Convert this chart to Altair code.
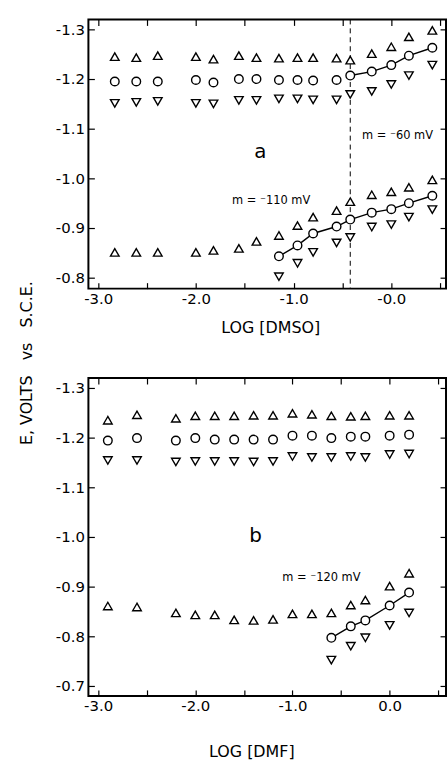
import altair as alt
import pandas as pd

# ---------------- Panel a : LOG [DMSO] ----------------
a_x = [-2.83, -2.61, -2.39, -2.0, -1.82, -1.56, -1.38, -1.15, -0.96, -0.80, -0.56, -0.42, -0.20, 0.0, 0.18, 0.42]
a_hi_up = [-1.245, -1.243, -1.247, -1.245, -1.240, -1.247, -1.243, -1.242, -1.243, -1.243, -1.242, -1.238, -1.251, -1.265, -1.285, -1.298]
a_hi_mid = [-1.195, -1.195, -1.195, -1.198, -1.193, -1.200, -1.200, -1.198, -1.198, -1.197, -1.198, -1.207, -1.215, -1.228, -1.247, -1.263]
a_hi_dn = [-1.151, -1.153, -1.155, -1.151, -1.150, -1.157, -1.157, -1.160, -1.160, -1.158, -1.158, -1.169, -1.175, -1.189, -1.207, -1.228]
a_hi_line_from = -0.42
a_lo_up = [-0.851, -0.851, -0.851, -0.851, -0.855, -0.859, -0.873, -0.885, -0.905, -0.922, -0.935, -0.953, -0.967, -0.973, -0.982, -0.997]
a_lo_x = [-1.15, -0.96, -0.80, -0.56, -0.42, -0.20, 0.0, 0.18, 0.42]
a_lo_mid = [-0.843, -0.865, -0.889, -0.903, -0.917, -0.931, -0.938, -0.950, -0.965]
a_lo_dn = [-0.802, -0.829, -0.851, -0.870, -0.881, -0.902, -0.907, -0.922, -0.937]
a_dashed_x = [-0.42]
a_letter = ["a"]
a_letter_x = [-1.34]
a_letter_y = [-1.054]
a_slope_text = ["m = \u207b60 mV", "m = \u207b110 mV"]
a_slope_x = [-0.30, -1.63]
a_slope_y = [-1.086, -0.954]
a_xtick_values = [-3.0, -2.5, -2.0, -1.5, -1.0, -0.5, 0.0, 0.5]
a_xlabel_values = [-3.0, -2.0, -1.0, 0.0]
a_xlabels = ["-3.0", "-2.0", "-1.0", "-0.0"]
a_ytick_values = [-1.3, -1.2, -1.1, -1.0, -0.9, -0.8]
a_ylabels = ["-1.3", "-1.2", "-1.1", "-1.0", "-0.9", "-0.8"]

# ---------------- Panel b : LOG [DMF] ----------------
b_x = [-2.9, -2.6, -2.2, -2.0, -1.8, -1.6, -1.4, -1.2, -1.0, -0.8, -0.6, -0.4, -0.25, 0.0, 0.2]
b_hi_up = [-1.235, -1.246, -1.239, -1.244, -1.244, -1.244, -1.245, -1.245, -1.249, -1.247, -1.244, -1.243, -1.244, -1.245, -1.245]
b_hi_mid = [-1.194, -1.199, -1.194, -1.199, -1.196, -1.196, -1.196, -1.196, -1.204, -1.204, -1.199, -1.202, -1.202, -1.204, -1.206]
b_hi_dn = [-1.154, -1.154, -1.151, -1.152, -1.152, -1.152, -1.151, -1.152, -1.162, -1.160, -1.160, -1.162, -1.160, -1.166, -1.167]
b_lo_up = [-0.861, -0.859, -0.847, -0.843, -0.843, -0.833, -0.832, -0.834, -0.845, -0.845, -0.847, -0.863, -0.873, -0.901, -0.927]
b_lo_x = [-0.6, -0.4, -0.25, 0.0, 0.2]
b_lo_mid = [-0.797, -0.820, -0.832, -0.862, -0.888]
b_lo_dn = [-0.752, -0.780, -0.797, -0.822, -0.847]
b_letter = ["b"]
b_letter_x = [-1.38]
b_letter_y = [-1.002]
b_slope_text = ["m = \u207b120 mV"]
b_slope_x = [-1.105]
b_slope_y = [-0.918]
b_xtick_values = [-3.0, -2.5, -2.0, -1.5, -1.0, -0.5, 0.0, 0.5]
b_xlabel_values = [-3.0, -2.0, -1.0, 0.0]
b_xlabels = ["-3.0", "-2.0", "-1.0", "0.0"]
b_ytick_values = [-1.3, -1.2, -1.1, -1.0, -0.9, -0.8, -0.7]
b_ylabels = ["-1.3", "-1.2", "-1.1", "-1.0", "-0.9", "-0.8", "-0.7"]

Y_TITLE = "E, VOLTS\u00a0\u00a0\u00a0vs\u00a0\u00a0\u00a0S.C.E."
FONT = "DejaVu Sans"


def label_expr(values, labels):
    expr = "''"
    for v, l in reversed(list(zip(values, labels))):
        expr = f"abs(datum.value - ({v})) < 1e-6 ? '{l}' : {expr}"
    return expr


def points_frame(rows):
    recs = []
    for xs, ys, kind in rows:
        for x, y in zip(xs, ys):
            recs.append({"x": x, "y": y, "kind": kind})
    return pd.DataFrame(recs)


def line_frame(groups):
    recs = []
    for gi, (xs, ys) in enumerate(groups):
        for x, y in zip(xs, ys):
            recs.append({"x": x, "y": y, "g": gi})
    return pd.DataFrame(recs)


def make_panel(pts, lines, rule_x, letter, slopes, xdom, ydom, w, h,
               xt_vals, xl_vals, xl, yt_vals, yl, xtitle, xtitle_x, xtitle_y,
               ytitle=None):
    xs = alt.Scale(domain=xdom, nice=False, zero=False)
    ys = alt.Scale(domain=ydom, nice=False, zero=False, reverse=True)
    common = dict(grid=False, domain=False, tickSize=6, offset=-6, tickColor="black",
                  tickWidth=1.2)
    bottom = alt.Axis(orient="bottom", values=xt_vals, labelExpr=label_expr(xl_vals, xl),
                      labelOverlap=False, labelFlush=False, labelPadding=3,
                      labelFontSize=15, labelColor="black", labelFont=FONT,
                      title=xtitle, titleX=xtitle_x, titleY=xtitle_y,
                      titleBaseline="middle", titleAlign="center",
                      titleFontSize=16, titleFontWeight="normal", titleFont=FONT,
                      titleColor="black", **common)
    left_kw = dict(orient="left", values=yt_vals, labelExpr=label_expr(yt_vals, yl),
                   labelOverlap=False, labelFlush=False, labelPadding=4,
                   labelFontSize=15, labelColor="black", labelFont=FONT, **common)
    if ytitle:
        left = alt.Axis(title=ytitle[0], titleX=ytitle[1], titleY=ytitle[2],
                        titleAngle=270, titleBaseline="alphabetic", titleAlign="left",
                        titleFontSize=16, titleFontWeight="normal", titleFont=FONT,
                        titleColor="black", **left_kw)
    else:
        left = alt.Axis(title=None, **left_kw)
    top = alt.Axis(orient="top", values=xt_vals, labels=False, title=None, **common)
    right = alt.Axis(orient="right", values=yt_vals, labels=False, title=None, **common)

    line_layer = alt.Chart(lines).mark_line(color="black", strokeWidth=1.4).encode(
        x=alt.X("x:Q", scale=xs, axis=top),
        y=alt.Y("y:Q", scale=ys, axis=right),
        detail="g:N",
    )
    layers = [line_layer]
    if rule_x is not None:
        rule = alt.Chart(pd.DataFrame({"x": rule_x})).mark_rule(
            color="black", strokeWidth=1, strokeDash=[5, 4]).encode(
            x=alt.X("x:Q", scale=xs, axis=None))
        layers.append(rule)
    point_layer = alt.Chart(pts).mark_point(
        filled=True, fill="white", stroke="black", strokeWidth=1.4, size=75, opacity=1
    ).encode(
        x=alt.X("x:Q", scale=xs, axis=bottom),
        y=alt.Y("y:Q", scale=ys, axis=left),
        shape=alt.Shape("kind:N", scale=alt.Scale(
            domain=["up", "mid", "dn"],
            range=["triangle-up", "circle", "triangle-down"]), legend=None),
    )
    layers.append(point_layer)
    let_df = pd.DataFrame({"x": letter[1], "y": letter[2], "t": letter[0]})
    layers.append(alt.Chart(let_df).mark_text(fontSize=20, font=FONT, color="black").encode(
        x=alt.X("x:Q", scale=xs, axis=None), y=alt.Y("y:Q", scale=ys, axis=None), text="t:N"))
    sl_df = pd.DataFrame({"x": slopes[1], "y": slopes[2], "t": slopes[0]})
    layers.append(alt.Chart(sl_df).mark_text(fontSize=11.5, font=FONT, color="black",
                                             align="left").encode(
        x=alt.X("x:Q", scale=xs, axis=None), y=alt.Y("y:Q", scale=ys, axis=None), text="t:N"))
    return alt.layer(*layers).resolve_axis(x="independent", y="independent").properties(
        width=w, height=h)


pts_a = points_frame([(a_x, a_hi_up, "up"), (a_x, a_hi_mid, "mid"), (a_x, a_hi_dn, "dn"),
                      (a_x, a_lo_up, "up"), (a_lo_x, a_lo_mid, "mid"), (a_lo_x, a_lo_dn, "dn")])
hi_line = [(x, y) for x, y in zip(a_x, a_hi_mid) if x >= a_hi_line_from]
lines_a = line_frame([([p[0] for p in hi_line], [p[1] for p in hi_line]), (a_lo_x, a_lo_mid)])

pts_b = points_frame([(b_x, b_hi_up, "up"), (b_x, b_hi_mid, "mid"), (b_x, b_hi_dn, "dn"),
                      (b_x, b_lo_up, "up"), (b_lo_x, b_lo_mid, "mid"), (b_lo_x, b_lo_dn, "dn")])
lines_b = line_frame([(b_lo_x, b_lo_mid)])

panel_a = make_panel(pts_a, lines_a, a_dashed_x, (a_letter, a_letter_x, a_letter_y),
                     (a_slope_text, a_slope_x, a_slope_y), [-3.10, 0.56], [-1.32, -0.778],
                     360, 271, a_xtick_values, a_xlabel_values, a_xlabels,
                     a_ytick_values, a_ylabels, "LOG [DMSO]", 183, 45,
                     ytitle=(Y_TITLE, -63, 428))
panel_b = make_panel(pts_b, lines_b, None, (b_letter, b_letter_x, b_letter_y),
                     (b_slope_text, b_slope_x, b_slope_y), [-3.10, 0.58], [-1.32, -0.68],
                     360, 320, b_xtick_values, b_xlabel_values, b_xlabels,
                     b_ytick_values, b_ylabels, "LOG [DMF]", 164, 62)

chart = alt.vconcat(panel_a, panel_b, spacing=90, bounds="flush").properties(
    padding={"left": 18, "top": 15, "right": 0, "bottom": 0}
).configure(font=FONT, background="white").configure_view(stroke="black", strokeWidth=2)

chart.save("out.html", embed_options={"renderer": "svg", "actions": False})
